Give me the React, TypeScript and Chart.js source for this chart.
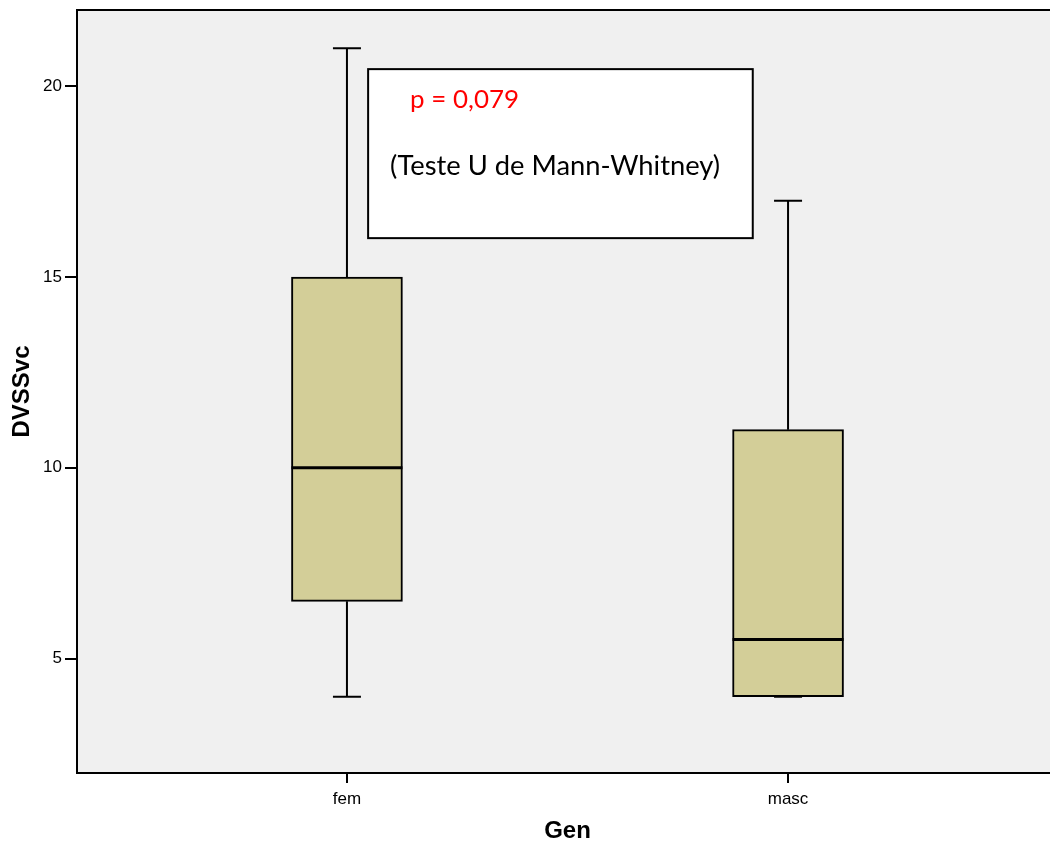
import React, { useEffect, useRef } from 'react';
import { Chart, registerables } from 'chart.js';

Chart.register(...registerables);

// ---- data ----
const categories = ['fem', 'masc'];
const categoryPositions = [1, 2];
const whiskerLow = [4, 4];
const quartile1 = [6.5, 4];
const medians = [10, 5.5];
const quartile3 = [15, 11];
const whiskerHigh = [21, 17];
const yTickValues = [5, 10, 15, 20];
const xLabel = 'Gen';
const yLabel = 'DVSSvc';
const pValueText = 'p = 0,079';
const testText = '(Teste U de Mann-Whitney)';

// ---- layout / style constants ----
const AXIS_FONT = '"Liberation Sans", Arial, sans-serif';
const NOTE_FONT = 'Lato, "Open Sans", sans-serif';
const BOX_FILL = '#D3CE98';
const PLOT_BG = '#F0F0F0';
const NOTE_X = [1.048, 1.92];
const NOTE_Y = [16.02, 20.45];

function fitFont(ctx: CanvasRenderingContext2D, text: string, width: number, family: string) {
  ctx.font = `100px ${family}`;
  const w = ctx.measureText(text).width;
  return (100 * width) / w;
}

const extrasPlugin = {
  id: 'boxExtras',
  beforeDatasetsDraw(chart: any) {
    const { ctx, chartArea, scales } = chart;
    ctx.save();
    ctx.fillStyle = PLOT_BG;
    ctx.fillRect(chartArea.left, chartArea.top, chartArea.right - chartArea.left, chartArea.bottom - chartArea.top);
    ctx.strokeStyle = '#000';
    ctx.lineWidth = 2;
    categoryPositions.forEach((pos, i) => {
      const x = scales.x.getPixelForValue(pos);
      const yMin = scales.y.getPixelForValue(whiskerLow[i]);
      const yQ1 = scales.y.getPixelForValue(quartile1[i]);
      const yQ3 = scales.y.getPixelForValue(quartile3[i]);
      const yMax = scales.y.getPixelForValue(whiskerHigh[i]);
      ctx.beginPath();
      ctx.moveTo(x, yMax);
      ctx.lineTo(x, yQ3);
      ctx.moveTo(x, yQ1);
      ctx.lineTo(x, yMin);
      ctx.moveTo(x - 14, yMax);
      ctx.lineTo(x + 14, yMax);
      ctx.moveTo(x - 14, yMin);
      ctx.lineTo(x + 14, yMin);
      ctx.stroke();
    });
    ctx.restore();
  },
  afterDatasetsDraw(chart: any) {
    const { ctx, chartArea, scales } = chart;
    const meta = chart.getDatasetMeta(0);
    ctx.save();
    // medians
    ctx.strokeStyle = '#000';
    ctx.lineWidth = 3;
    categoryPositions.forEach((pos, i) => {
      const el = meta.data[i];
      const x = scales.x.getPixelForValue(pos);
      const half = el.width / 2;
      const y = scales.y.getPixelForValue(medians[i]);
      ctx.beginPath();
      ctx.moveTo(x - half, y);
      ctx.lineTo(x + half, y);
      ctx.stroke();
    });
    // frame
    ctx.lineWidth = 2;
    ctx.beginPath();
    ctx.moveTo(chartArea.right + 2, chartArea.top);
    ctx.lineTo(chartArea.left, chartArea.top);
    ctx.lineTo(chartArea.left, chartArea.bottom);
    ctx.lineTo(chartArea.right + 2, chartArea.bottom);
    ctx.stroke();
    // note box
    const bx0 = scales.x.getPixelForValue(NOTE_X[0]);
    const bx1 = scales.x.getPixelForValue(NOTE_X[1]);
    const by0 = scales.y.getPixelForValue(NOTE_Y[1]);
    const by1 = scales.y.getPixelForValue(NOTE_Y[0]);
    ctx.fillStyle = '#FFFFFF';
    ctx.fillRect(bx0, by0, bx1 - bx0, by1 - by0);
    ctx.strokeStyle = '#000';
    ctx.lineWidth = 2;
    ctx.strokeRect(bx0, by0, bx1 - bx0, by1 - by0);
    ctx.textAlign = 'left';
    ctx.textBaseline = 'alphabetic';
    const s1 = fitFont(ctx, pValueText, 109, NOTE_FONT);
    ctx.font = `${s1}px ${NOTE_FONT}`;
    ctx.fillStyle = '#FF0000';
    ctx.fillText(pValueText, bx0 + 42, by0 + 39);
    const s2 = fitFont(ctx, testText, 330, NOTE_FONT);
    ctx.font = `${s2}px ${NOTE_FONT}`;
    ctx.fillStyle = '#000000';
    ctx.fillText(testText, bx0 + 22, by0 + 106);
    ctx.restore();
  },
};

export default function App() {
  const canvasRef = useRef<HTMLCanvasElement | null>(null);

  useEffect(() => {
    const canvas = canvasRef.current;
    if (!canvas) return;
    const chart = new Chart(canvas, {
      type: 'bar',
      data: {
        datasets: [
          {
            data: categoryPositions.map((pos, i) => ({ x: pos, y: [quartile1[i], quartile3[i]] })) as any,
            backgroundColor: BOX_FILL,
            borderColor: '#000',
            borderWidth: 2,
            borderSkipped: false,
            barThickness: 111,
          },
        ],
      },
      options: {
        responsive: false,
        animation: false,
        devicePixelRatio: 1,
        layout: { padding: { top: 10, left: 0, right: 2, bottom: 0 } },
        plugins: { legend: { display: false }, tooltip: { enabled: false } },
        scales: {
          x: {
            type: 'linear',
            min: 0.388,
            max: 2.612,
            offset: false,
            afterBuildTicks: (scale: any) => {
              scale.ticks = categoryPositions.map((v) => ({ value: v }));
            },
            afterFit: (scale: any) => {
              scale.height = 73;
              scale.paddingLeft = 0;
              scale.paddingRight = 0;
            },
            ticks: {
              callback: (v: any) => {
                const idx = categoryPositions.indexOf(Number(v));
                return idx >= 0 ? categories[idx] : '';
              },
              font: { family: AXIS_FONT, size: 17 },
              color: '#000',
              padding: 6,
              maxRotation: 0,
              autoSkip: false,
            },
            grid: { display: true, offset: false, drawOnChartArea: false, tickLength: 10, tickColor: '#000', lineWidth: 2 },
            border: { display: false },
            title: {
              display: true,
              text: xLabel,
              font: { family: AXIS_FONT, size: 24, weight: 'bold' },
              color: '#000',
              padding: { top: 0, bottom: 0 },
            },
          },
          y: {
            type: 'linear',
            min: 2,
            max: 22,
            afterBuildTicks: (scale: any) => {
              scale.ticks = yTickValues.map((v) => ({ value: v }));
            },
            afterFit: (scale: any) => {
              scale.width = 77;
              scale.paddingTop = 0;
              scale.paddingBottom = 0;
            },
            ticks: {
              font: { family: AXIS_FONT, size: 17 },
              color: '#000',
              padding: 3,
            },
            grid: { display: true, drawOnChartArea: false, tickLength: 12, tickColor: '#000', lineWidth: 2 },
            border: { display: false },
            title: {
              display: true,
              text: yLabel,
              font: { family: AXIS_FONT, size: 24, weight: 'bold' },
              color: '#000',
              padding: { top: 8, bottom: 0 },
            },
          },
        },
      },
      plugins: [extrasPlugin],
    });
    return () => chart.destroy();
  }, []);

  return (
    <div style={{ position: 'absolute', left: 0, top: 0, width: 1050, height: 846, overflow: 'hidden', background: '#fff' }}>
      <canvas ref={canvasRef} width={1060} height={846} style={{ display: 'block' }} />
    </div>
  );
}
